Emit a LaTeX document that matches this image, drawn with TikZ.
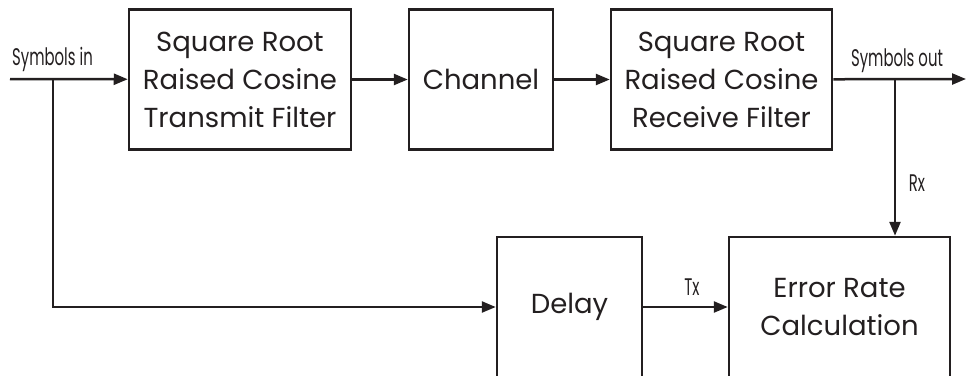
\documentclass[tikz,border=0pt]{standalone}
\usepackage{fontspec}
\setmainfont{Poppins}
\newfontfamily\sigfont[FakeStretch=0.62]{Poppins}
\usepackage{tikz}
\usetikzlibrary{arrows.meta, positioning}
\definecolor{ink}{HTML}{231F20}
\begin{document}
\begin{tikzpicture}[
        x=1pt, y=-1pt,
        line width=2.5pt, draw=ink,
        block/.style={rectangle, draw=ink, line width=2.5pt, minimum height=140pt,
          align=center, text=ink, font=\fontsize{27.5}{38}\selectfont},
        signal/.style={text=ink, font=\sigfont\fontsize{24}{26}\selectfont, anchor=base, inner sep=0pt},
        flow/.style={-{Triangle[length=14pt, width=11pt]}, ink}
      ]
        \useasboundingbox (0,0) rectangle (969,375);
        \clip (0,0) rectangle (969,375);
        % Top row
        \node[block, minimum width=222pt] (txf) at (240, 79.5) {Square Root\\Raised Cosine\\Transmit Filter};
        \node[block, minimum width=144pt] (chan) at (481, 79.5) {Channel};
        \node[block, minimum width=221pt] (rxf) at (721.5, 79.5) {Square Root\\Raised Cosine\\Receive Filter};
        % Bottom row (boxes run past the lower edge)
        \node[block, minimum width=145pt] (delay) at (569.5, 307) {Delay};
        \node[block, minimum width=221pt] (err) at (839.5, 307) {Error Rate\\Calculation};
        % End points and branch points
        \coordinate (in) at (10, 79);
        \coordinate (out) at (966, 79);
        \coordinate (tap1) at (53, 79);
        \coordinate (tap2) at (895, 79);

        % Forward path
        \draw[flow] (in) -- (txf);
        \draw[flow] (txf) -- (chan);
        \draw[flow] (chan) -- (rxf);
        \draw[flow] (rxf) -- (out);
        % Reference and received branches
        \draw[flow] (tap1) |- (delay.west);
        \draw[flow] (delay) -- (err);
        \draw[flow] (tap2) -- (tap2 |- err.north);
        % Signal labels
        \node[signal] (lin) at (52.5, 65) {Symbols in};
        \node[signal] (lout) at (897, 66) {Symbols out};
        \node[signal] (lrx) at (917, 191) {Rx};
        \node[signal] (ltx) at (692, 295) {Tx};
      \end{tikzpicture}
\end{document}
